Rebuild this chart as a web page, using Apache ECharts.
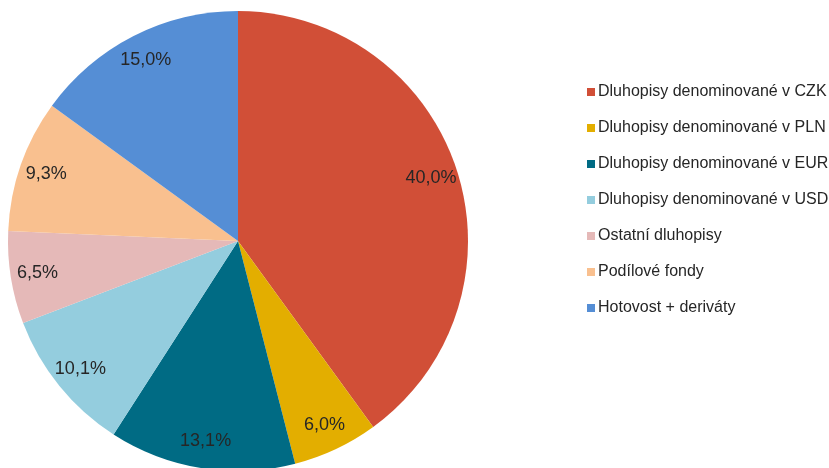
<!DOCTYPE html>
<html>
<head>
<meta charset="utf-8">
<script src="https://cdn.jsdelivr.net/npm/echarts@6/dist/echarts.min.js"></script>
<style>
  html, body { margin: 0; padding: 0; background: #fff; }
  #chart { width: 829px; height: 468px; }
</style>
</head>
<body>
<div id="chart"></div>
<script>
const categories = [
  'Dluhopisy denominované v CZK',
  'Dluhopisy denominované v PLN',
  'Dluhopisy denominované v EUR',
  'Dluhopisy denominované v USD',
  'Ostatní dluhopisy',
  'Podílové fondy',
  'Hotovost + deriváty'
]
const values = [40.0, 6.0, 13.1, 10.1, 6.5, 9.3, 15.0]
const colors = ['#d14f37', '#e3ae00', '#006b84', '#94cdde', '#e5b9b8', '#f9c08f', '#558ed5']

const pieData = categories.map((name, i) => ({
  name: name,
  value: values[i],
  itemStyle: { color: colors[i] }
}))

// label ring: same slices, transparent, so the inside labels sit near the rim
const labelData = categories.map((name, i) => ({
  name: name,
  value: values[i],
  itemStyle: { color: 'rgba(0,0,0,0)' }
}))

const chart = echarts.init(document.getElementById('chart'))
chart.setOption({
  animation: false,
  legend: {
    orient: 'vertical',
    left: 587,
    top: 84,
    padding: 0,
    icon: 'rect',
    itemWidth: 8,
    itemHeight: 8,
    itemGap: 20,
    data: categories,
    textStyle: {
      fontFamily: 'Liberation Sans, Arial, sans-serif',
      fontSize: 16,
      color: '#262626',
      padding: [0, 0, 0, -2]
    }
  },
  series: [
    {
      type: 'pie',
      center: [238, 241],
      radius: [0, 230],
      startAngle: 90,
      clockwise: true,
      label: { show: false },
      labelLine: { show: false },
      emphasis: { disabled: true },
      data: pieData
    },
    {
      type: 'pie',
      center: [238, 241],
      radius: [170, 230],
      startAngle: 90,
      clockwise: true,
      silent: true,
      emphasis: { disabled: true },
      label: {
        show: true,
        position: 'inside',
        fontFamily: 'Liberation Sans, Arial, sans-serif',
        fontSize: 18,
        color: '#262626',
        formatter: (p) => p.value.toFixed(1).replace('.', ',') + '%'
      },
      labelLine: { show: false },
      data: labelData
    }
  ]
})
</script>
</body>
</html>
